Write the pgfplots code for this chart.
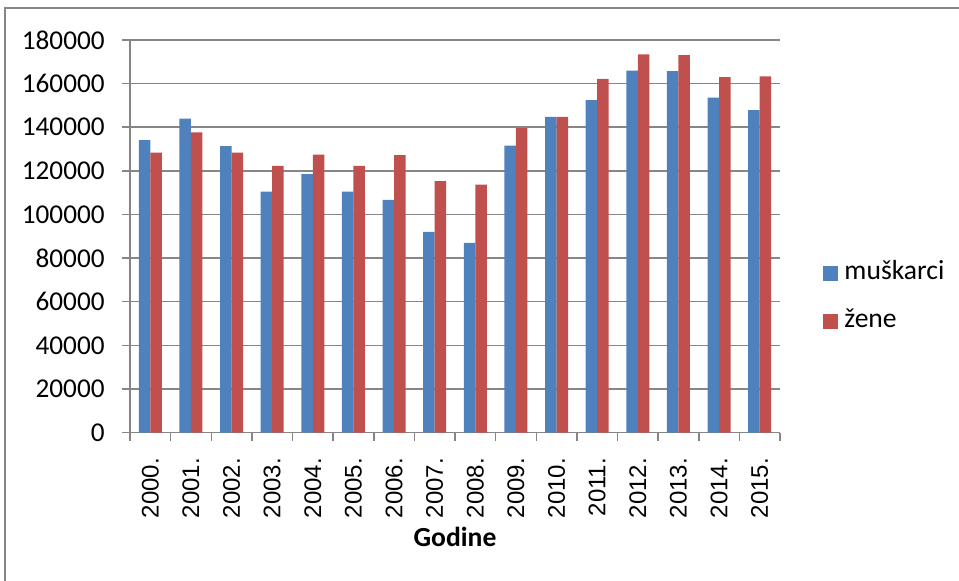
\documentclass[border=0pt]{standalone}
\usepackage{pgfplots}
\pgfplotsset{compat=1.18}
\usepackage{fontspec}
\setmainfont{Carlito}
\newfontfamily\arialf{Liberation Sans}
\definecolor{cblue}{HTML}{4F81BD}
\definecolor{cred}{HTML}{C0504D}
\definecolor{cgrid}{HTML}{868686}
\begin{document}
\begin{tikzpicture}
\path[use as bounding box] (0,0) rectangle (479.5pt,-290.5pt);
\draw[cgrid, line width=0.75pt] (2.5pt,-290.5pt) -- (2.5pt,-4pt) -- (479.5pt,-4pt);
\begin{axis}[
  at={(65pt,-216.3pt)}, anchor=south west,
  scale only axis, width=325pt, height=196.3pt,
  ybar=0pt, bar width=5.75pt,
  xmin=-0.5, xmax=15.5, ymin=0, ymax=180000,
  axis x line=bottom, axis y line=left,
  axis line style={cgrid, line width=0.75pt, -},
  tick style={cgrid, line width=0.75pt},
  tick align=outside, major tick length=4pt,
  ytick={0,20000,40000,60000,80000,100000,120000,140000,160000,180000},
  yticklabels={0,20000,40000,60000,80000,100000,120000,140000,160000,180000},
  ymajorgrids, grid style={cgrid, line width=0.75pt},
  scaled y ticks=false,
  yticklabel style={font=\fontsize{13.6}{13.6}\selectfont, anchor=east, inner sep=0pt, xshift=-8.5pt},
  xtick={-0.5,0.5,1.5,2.5,3.5,4.5,5.5,6.5,7.5,8.5,9.5,10.5,11.5,12.5,13.5,14.5,15.5},
  x tick label as interval,
  xticklabels={2000.,2001.,2002.,2003.,2004.,2005.,2006.,2007.,2008.,2009.,2010.,2011.,2012.,2013.,2014.,2015.},
  xticklabel style={font=\arialf\fontsize{12}{12}\selectfont, rotate=90, anchor=east, inner xsep=8.5pt, inner ysep=0pt},
  xlabel={Godine},
  xlabel style={font=\bfseries\fontsize{13.8}{13.8}\selectfont, at={(axis description cs:0.5,0)}, anchor=center, yshift=-52.2pt},
  legend style={draw=none, fill=none, at={(1.057,0.343)}, anchor=west, font=\fontsize{13.8}{13.8}\selectfont,
    row sep=12pt, nodes={inner sep=0pt, text height=9pt, text depth=3pt},
    /tikz/every odd column/.append style={column sep=3pt}},
  legend cell align=left,
  legend image code/.code={\fill[#1, draw=none] (0pt,-3.75pt) rectangle (7.5pt,3.75pt);},
]
\addplot[fill=cblue, draw=none] coordinates {
(0,134100) (1,144000) (2,131300) (3,110500) (4,118500) (5,110500) (6,106700) (7,92000)
(8,87000) (9,131600) (10,144800) (11,152400) (12,166000) (13,165700) (14,153600) (15,147800)};
\addplot[fill=cred, draw=none] coordinates {
(0,128400) (1,137700) (2,128400) (3,122300) (4,127500) (5,122300) (6,127200) (7,115300)
(8,113700) (9,139600) (10,144800) (11,162200) (12,173400) (13,173100) (14,163000) (15,163300)};
\legend{muškarci, žene}
\end{axis}
\end{tikzpicture}
\end{document}
